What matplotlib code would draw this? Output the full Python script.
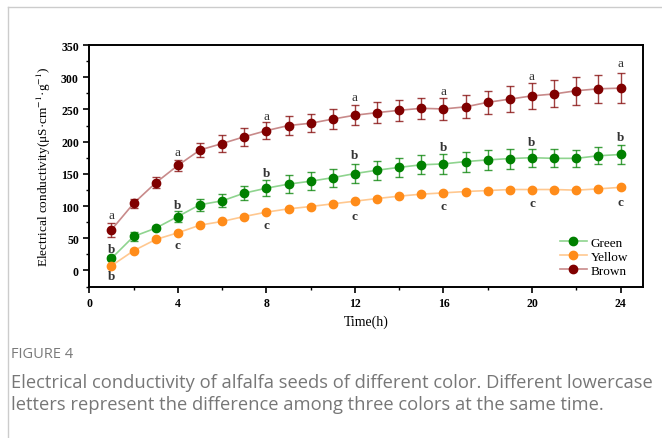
import matplotlib.pyplot as plt
from matplotlib.lines import Line2D
from matplotlib.ticker import MultipleLocator

plt.rcParams['font.family'] = 'Liberation Serif'
plt.rcParams['mathtext.fontset'] = 'stix'

hours = list(range(1, 25))

green = [18.6, 52.7, 65.6, 83.7, 102, 108, 120, 127.7, 134, 138.5, 144, 150.4,
         155.6, 160, 164, 165.4, 169, 171.6, 173.7, 175, 174, 174, 178, 180]
green_err = [3, 7, 3, 8, 9.5, 10, 11, 12.7, 14, 14, 14, 15,
             14.5, 14.5, 15, 15, 15.5, 16, 15.5, 14, 14, 13.5, 13.5, 14.5]
yellow = [7.2, 30.5, 48, 58.4, 70.3, 76, 83.7, 90.5, 95.6, 99.2, 103.4, 107.5,
          111.6, 115.3, 118.4, 120.4, 122.5, 124, 125.6, 125.6, 125.6, 124.6, 126.6, 129]
yellow_err = [1.5, 2, 2, 2, 2, 2, 2, 2, 2, 2, 2, 2,
              2, 2, 2, 2, 2, 2, 2.5, 2.5, 2.5, 2, 2, 2]
brown = [63, 104, 136, 163, 187, 197, 207.5, 217, 225, 228.5, 235, 241,
         245, 248.6, 251.7, 250.7, 254, 261, 266, 271, 274, 279, 282, 283]
brown_err = [11, 7, 8.5, 9, 11, 13, 14, 13, 14, 14, 15, 15.5,
             16, 16, 16.5, 17, 18, 18, 20, 20, 21, 22, 22, 23]

# significance letters
letter_hours = [1, 4, 8, 12, 16, 20, 24]
brown_letters = ['a', 'a', 'a', 'a', 'a', 'a', 'a']
brown_letter_y = [86, 184.5, 240, 270, 278, 302, 321.5]
green_letters = ['b', 'b', 'b', 'b', 'b', 'b', 'b']
green_letter_y = [32.5, 102, 151, 179, 191, 200, 207]
yellow_letters = ['b', 'c', 'c', 'c', 'c', 'c', 'c']
yellow_letter_y = [-9, 40, 70, 85, 100, 104, 106]

fig = plt.figure(figsize=(6.62, 4.39), dpi=100)
ax = fig.add_axes([0.1349, 0.3451, 0.8359, 0.5501])

series = [
    ('Green', green, green_err, '#008000', '#8fd48f', green_letters, green_letter_y),
    ('Yellow', yellow, yellow_err, '#ff8c1a', '#ffc890', yellow_letters, yellow_letter_y),
    ('Brown', brown, brown_err, '#800000', '#c88a8a', brown_letters, brown_letter_y),
]

for name, vals, errs, col, lcol, letters, ly in series:
    ax.plot(hours, vals, '-', color=lcol, lw=1.2, zorder=2)
    ax.errorbar(hours, vals, yerr=errs, fmt='none', ecolor=col, elinewidth=1.0,
                capsize=3, capthick=1.0, alpha=0.75, zorder=3)
    ax.plot(hours, vals, 'o', color=col, ms=6, zorder=4)
    for h, s, y in zip(letter_hours, letters, ly):
        ax.text(h, y, s, ha='center', va='center', fontsize=9.5, color='#333333',
                fontweight='bold' if s in ('b', 'c') else 'normal')

handles = [Line2D([0], [0], color=s[4], lw=1.2, marker='o', ms=6,
                  markerfacecolor=s[3], markeredgecolor=s[3]) for s in series]
ax.legend(handles, [s[0] for s in series], loc='lower right', frameon=False,
          fontsize=9.5, handlelength=2.0, handletextpad=0.3, labelspacing=0.15,
          bbox_to_anchor=(0.995, -0.01))

ax.set_xlim(0, 25)
ax.set_ylim(-25, 350)
ax.xaxis.set_major_locator(MultipleLocator(4))
ax.xaxis.set_minor_locator(MultipleLocator(2))
ax.yaxis.set_major_locator(MultipleLocator(50))
ax.yaxis.set_minor_locator(MultipleLocator(25))
ax.set_yticks(range(0, 351, 50))
ax.tick_params(axis='both', which='major', direction='out', length=4, width=1.2,
               labelsize=8.5)
ax.tick_params(axis='both', which='minor', direction='out', length=2, width=1.0)
for lab in ax.get_xticklabels() + ax.get_yticklabels():
    lab.set_fontweight('bold')
for sp in ax.spines.values():
    sp.set_linewidth(1.4)

ax.set_xlabel('Time(h)', fontsize=10, labelpad=4)
ax.set_ylabel(r'Electrical conductivity(μS·cm$^{-1}$·g$^{-1}$)', fontsize=9.5, labelpad=6)

# page frame lines
fig.add_artist(Line2D([8 / 662, 8 / 662], [0, 1 - 8 / 439], color='#cccccc', lw=1))
fig.add_artist(Line2D([8 / 662, 1], [1 - 8 / 439, 1 - 8 / 439], color='#cccccc', lw=1))

fig.text(11 / 662, 1 - 355 / 439, 'FIGURE 4', fontsize=10.5, color='#7a7a7a',
         family='Open Sans', va='center')
fig.text(11 / 662, 1 - 383 / 439,
         'Electrical conductivity of alfalfa seeds of different color. Different lowercase',
         fontsize=13.2, color='#777777', family='Open Sans', va='center')
fig.text(11 / 662, 1 - 405 / 439,
         'letters represent the difference among three colors at the same time.',
         fontsize=13.2, color='#777777', family='Open Sans', va='center')

plt.savefig('out.png', dpi=100)
